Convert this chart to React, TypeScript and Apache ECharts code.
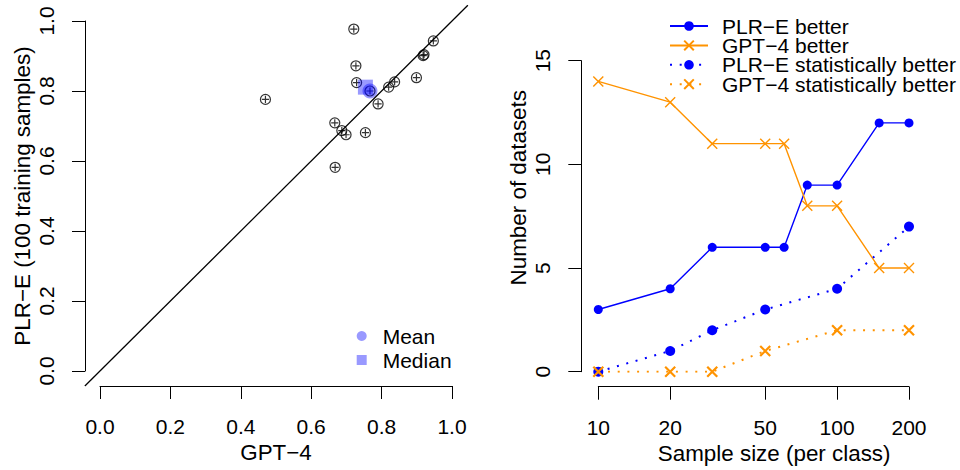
import React, { useEffect, useRef } from "react";
import * as echarts from "echarts";

// ---- Left panel: per-dataset accuracy (GPT-4 vs PLR-E with 100 training samples)
const gpt4Scores = [0.721, 0.947, 0.9205, 0.918, 0.727, 0.899, 0.729, 0.837, 0.820, 0.767, 0.790, 0.470, 0.667, 0.687, 0.699, 0.754, 0.668];
const plreScores = [0.977, 0.943, 0.904, 0.901, 0.872, 0.838, 0.824, 0.826, 0.811, 0.800, 0.763, 0.776, 0.709, 0.687, 0.675, 0.681, 0.582];
const meanPoint = [0.767, 0.800];
const medianPoint = [0.754, 0.811];
// y = x reference line spans the whole plotting region (-0.043 .. 1.045)
const identityRange = [-0.043, 1.045];

// ---- Right panel: counts by sample size
const sampleSizes = [10, 20, 30, 50, 60, 75, 100, 150, 200];
const plreBetter = [3, 4, 6, 6, 6, 9, 9, 12, 12];
const gpt4Better = [14, 13, 11, 11, 11, 8, 8, 5, 5];
const statSizes = [10, 20, 30, 50, 100, 200];
const plreStatBetter = [0, 1, 2, 3, 4, 7];
const gpt4StatBetter = [0, 0, 0, 1, 2, 2];
const xTickValues = [10, 20, 50, 100, 200];

const FONT = "'Liberation Sans', Arial, Helvetica, sans-serif";
const BLUE = "#0000FF";
const ORANGE = "#FF9300";
const FS = 21;
const FS_TITLE = 22.4;

const circlePlus = "path://M0,-1A1,1,0,1,1,0,1A1,1,0,1,1,0,-1ZM-0.72,0L0.72,0M0,-0.72L0,0.72";
const crossSym = "path://M-1,-1L1,1M-1,1L1,-1";

const axisCommon = {
  axisLine: { show: true, onZero: false, lineStyle: { color: "#000", width: 1 } },
  axisTick: { show: true, length: 13, lineStyle: { color: "#000", width: 1 } },
  splitLine: { show: false },
  nameLocation: "middle" as const,
};
const titleStyle = (extra: any = {}) => ({ fontSize: FS_TITLE, color: "#000", fontFamily: FONT, ...extra });

const hiddenAxis = {
  show: false,
  type: "value" as const,
  min: identityRange[0],
  max: identityRange[1],
  splitLine: { show: false },
};

export default function App() {
  const ref = useRef<HTMLDivElement>(null);
  useEffect(() => {
    if (!ref.current) return;
    const chart = echarts.init(ref.current, undefined, { renderer: "svg" });
    const label = (extra: any) => ({ fontSize: FS, color: "#000", fontFamily: FONT, ...extra });
    const pxX = 352, pxY = 350;
    chart.setOption({
      animation: false,
      textStyle: { fontFamily: FONT },
      grid: [
        { left: 100, top: 21, width: pxX, height: pxY },
        { left: 598.3, top: 60.7, width: 310.7, height: 311 },
        {
          left: 100 + identityRange[0] * pxX,
          top: 21 + (1 - identityRange[1]) * pxY,
          width: (identityRange[1] - identityRange[0]) * pxX,
          height: (identityRange[1] - identityRange[0]) * pxY,
        },
      ],
      legend: [
        {
          data: ["Mean", "Median"],
          orient: "vertical",
          left: 356.7,
          top: 325.5,
          padding: 0,
          itemWidth: 10,
          itemHeight: 10,
          itemGap: 3,
          selectedMode: false,
          textStyle: { fontSize: FS, color: "#000", fontFamily: FONT, lineHeight: 21, padding: [0, 0, 0, 11] },
        },
        {
          data: ["PLR−E better", "GPT−4 better", "PLR−E statistically better", "GPT−4 statistically better"],
          orient: "vertical",
          left: 669,
          top: 15.5,
          padding: 0,
          itemWidth: 38,
          itemHeight: 12,
          itemGap: -1.6,
          selectedMode: false,
          textStyle: { fontSize: FS, color: "#000", fontFamily: FONT, lineHeight: 19, padding: [0, 0, 0, 9] },
        },
      ],
      xAxis: [
        {
          ...axisCommon,
          gridIndex: 0,
          type: "value",
          min: 0,
          max: 1,
          interval: 0.2,
          offset: 15,
          axisLabel: label({ margin: 30, formatter: (v: number) => v.toFixed(1) }),
          name: "GPT−4",
          nameGap: 53,
          nameTextStyle: titleStyle(),
        },
        {
          ...axisCommon,
          gridIndex: 1,
          type: "log",
          logBase: 10,
          min: 10,
          max: 200,
          offset: 15,
          axisTick: { ...axisCommon.axisTick, customValues: xTickValues },
          axisLabel: label({ margin: 30, customValues: xTickValues, formatter: (v: number) => String(Math.round(v)) }),
          name: "Sample size (per class)",
          nameGap: 53,
          nameTextStyle: titleStyle({ padding: [0, 0, 0, 41] }),
        },
        { ...hiddenAxis, gridIndex: 2 },
      ],
      yAxis: [
        {
          ...axisCommon,
          gridIndex: 0,
          type: "value",
          min: 0,
          max: 1,
          interval: 0.2,
          offset: 15,
          axisLabel: label({ margin: 28, rotate: 90, formatter: (v: number) => v.toFixed(1) }),
          name: "PLR−E (100 training samples)",
          nameGap: 52,
          nameRotate: 90,
          nameTextStyle: titleStyle(),
        },
        {
          ...axisCommon,
          gridIndex: 1,
          type: "value",
          min: 0,
          max: 15,
          interval: 5,
          offset: 17,
          axisLabel: label({ margin: 28, rotate: 90 }),
          name: "Number of datasets",
          nameGap: 52,
          nameRotate: 90,
          nameTextStyle: titleStyle({ padding: [0, 0, 0, 57] }),
        },
        { ...hiddenAxis, gridIndex: 2 },
      ],
      series: [
        {
          type: "line",
          xAxisIndex: 2,
          yAxisIndex: 2,
          data: identityRange.map((v) => [v, v]),
          symbol: "none",
          silent: true,
          lineStyle: { color: "#000", width: 1.3 },
        },
        {
          type: "scatter",
          name: "datasets",
          xAxisIndex: 0,
          yAxisIndex: 0,
          data: gpt4Scores.map((g, i) => [g, plreScores[i]]),
          symbol: circlePlus,
          symbolSize: 10,
          itemStyle: { color: "rgba(0,0,0,0)", borderColor: "#000", borderWidth: 1.2 },
          silent: true,
        },
        {
          type: "scatter",
          name: "Median",
          xAxisIndex: 0,
          yAxisIndex: 0,
          data: [medianPoint],
          symbol: "rect",
          symbolSize: 15,
          itemStyle: { color: "rgba(0,0,255,0.5)" },
        },
        {
          type: "scatter",
          name: "Mean",
          xAxisIndex: 0,
          yAxisIndex: 0,
          data: [meanPoint],
          symbol: "circle",
          symbolSize: 15,
          itemStyle: { color: "rgba(0,0,255,0.5)" },
        },
        {
          type: "line",
          name: "PLR−E better",
          xAxisIndex: 1,
          yAxisIndex: 1,
          data: sampleSizes.map((s, i) => [s, plreBetter[i]]),
          symbol: "circle",
          symbolSize: 9,
          lineStyle: { color: BLUE, width: 1.4 },
          itemStyle: { color: BLUE },
        },
        {
          type: "line",
          name: "GPT−4 better",
          xAxisIndex: 1,
          yAxisIndex: 1,
          data: sampleSizes.map((s, i) => [s, gpt4Better[i]]),
          symbol: crossSym,
          symbolSize: 10,
          lineStyle: { color: ORANGE, width: 1.4 },
          itemStyle: { color: ORANGE, borderColor: ORANGE, borderWidth: 1.4 },
        },
        {
          type: "line",
          name: "PLR−E statistically better",
          xAxisIndex: 1,
          yAxisIndex: 1,
          data: statSizes.map((s, i) => [s, plreStatBetter[i]]),
          symbol: "circle",
          symbolSize: 10,
          lineStyle: { color: BLUE, width: 2, type: [2, 7.7] },
          itemStyle: { color: BLUE },
        },
        {
          type: "line",
          name: "GPT−4 statistically better",
          xAxisIndex: 1,
          yAxisIndex: 1,
          data: statSizes.map((s, i) => [s, gpt4StatBetter[i]]),
          symbol: crossSym,
          symbolSize: 10,
          lineStyle: { color: ORANGE, width: 2, type: [2, 7.7] },
          itemStyle: { color: ORANGE, borderColor: ORANGE, borderWidth: 2.2 },
        },
      ],
    });
    return () => chart.dispose();
  }, []);
  return <div ref={ref} style={{ position: "absolute", left: 0, top: 0, width: 960, height: 470 }} />;
}
